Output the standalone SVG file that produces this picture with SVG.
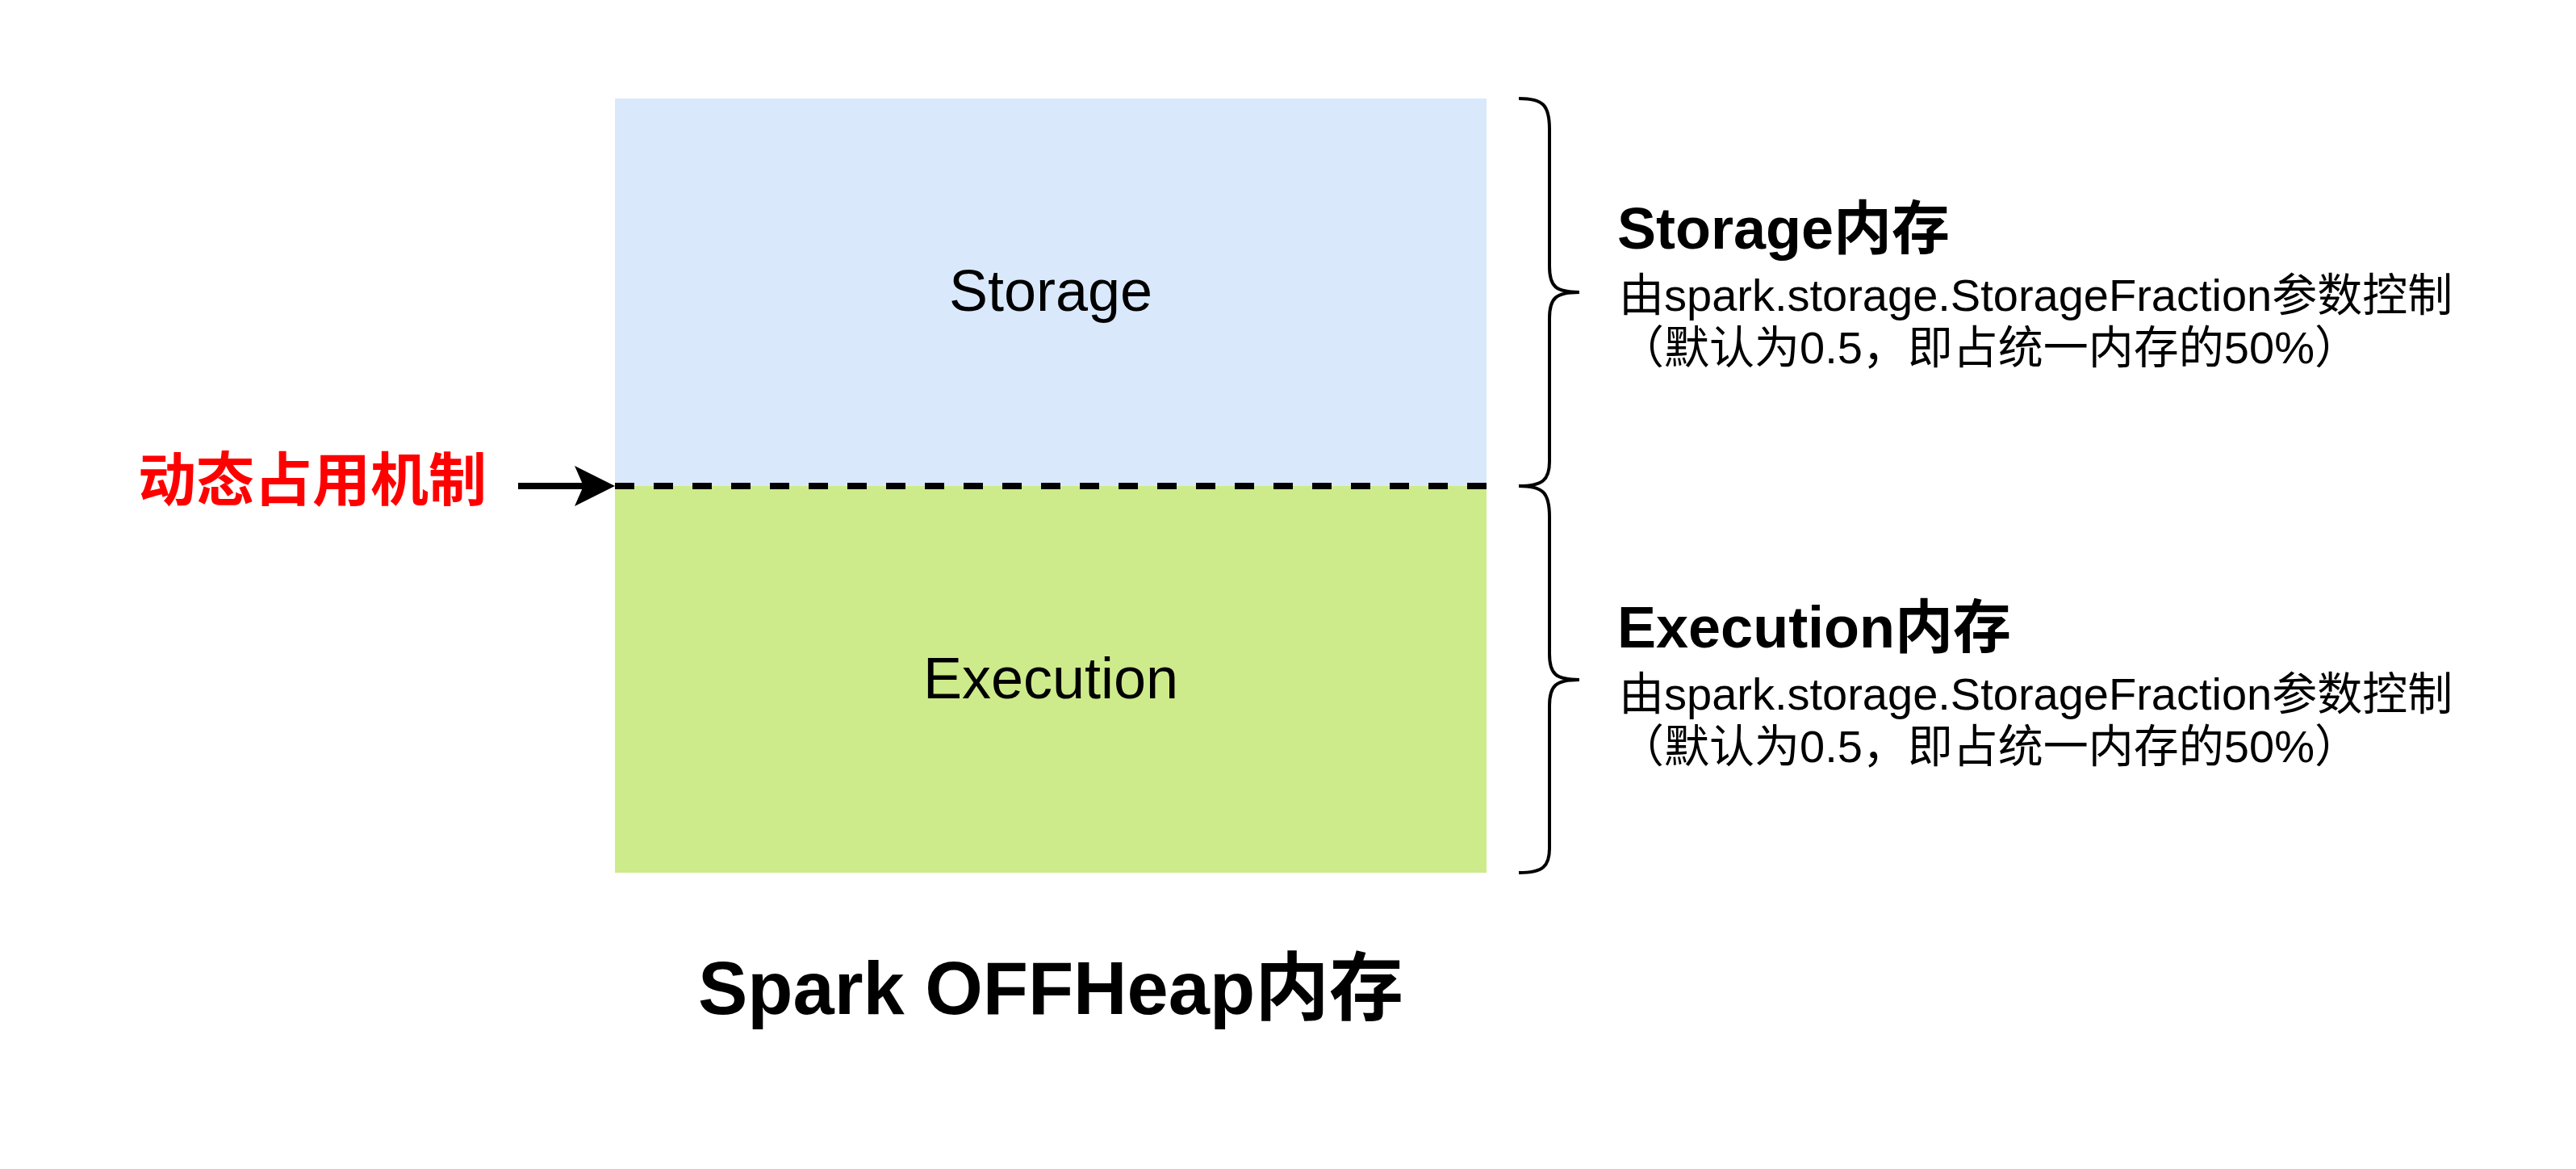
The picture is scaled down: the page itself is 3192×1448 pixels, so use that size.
<svg xmlns="http://www.w3.org/2000/svg" width="3192" height="1448" viewBox="0 0 3192 1448">
<defs>
<style>
text{font-family:"Liberation Sans","Noto Sans CJK SC",sans-serif;fill:#000}
.lbl{font-size:72px;text-anchor:middle}
.hd{font-size:72px;font-weight:bold}
.desc{font-size:56px}
.brace{fill:none;stroke:#000;stroke-width:4}
</style>
</defs>
<rect width="3192" height="1448" fill="#fff"/>
<g id="storage">
<rect x="762" y="122" width="1080" height="480" fill="#dae8fc"/>
<text class="lbl" x="1302" y="385">Storage</text>
</g>
<g id="execution">
<rect x="762" y="602" width="1080" height="479" fill="#cdeb8b"/>
<text class="lbl" x="1302" y="865">Execution</text>
</g>
<g id="storage-brace">
<path class="brace" d="M1882,122 C1912,122 1920,130 1920,160 L1920,330 C1920,355 1928,362 1957,362 C1928,362 1920,369 1920,394 L1920,572 C1920,594 1912,602 1882,602"/>
</g>
<g id="execution-brace">
<path class="brace" d="M1882,602 C1912,602 1920,610 1920,640 L1920,810 C1920,835 1928,842 1957,842 C1928,842 1920,849 1920,874 L1920,1051 C1920,1073 1912,1081 1882,1081"/>
</g>
<g id="storage-desc">
<text class="hd" x="2004" y="308">Storage内存</text>
<text class="desc" x="2006" y="385">由spark.storage.StorageFraction参数控制</text>
<text class="desc" x="2006" y="450">（默认为0.5，即占统一内存的50%）</text>
</g>
<g id="execution-desc">
<text class="hd" x="2004" y="802">Execution内存</text>
<text class="desc" x="2006" y="879">由spark.storage.StorageFraction参数控制</text>
<text class="desc" x="2006" y="944">（默认为0.5，即占统一内存的50%）</text>
</g>
<g id="dynamic-label">
<text x="171" y="620" style="font-size:72px;font-weight:bold;fill:#ff0000">动态占用机制</text>
</g>
<g id="title">
<text x="1302" y="1256" style="font-size:92px;font-weight:bold;text-anchor:middle">Spark OFFHeap内存</text>
</g>
<g id="connectors">
<line x1="762" y1="602" x2="1842" y2="602" stroke="#000" stroke-width="8" stroke-dasharray="24 24"/>
<line x1="642" y1="602" x2="725" y2="602" stroke="#000" stroke-width="8"/>
<path d="M762,602 L712,577 L723,602 L712,627 Z" fill="#000"/>
</g>
</svg>
